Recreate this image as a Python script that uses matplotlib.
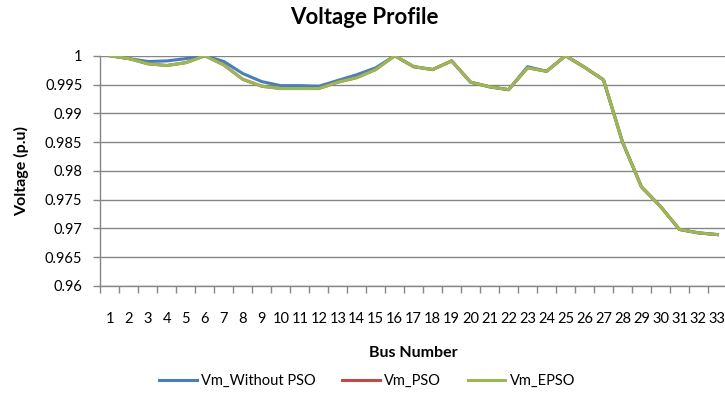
import matplotlib.pyplot as plt
from matplotlib.ticker import FixedLocator

plt.rcParams['font.family'] = ['Lato', 'DejaVu Sans']

# bus numbers
bus = list(range(1, 34))

# voltage magnitudes (p.u)
vm_without = [1.0, 0.9995, 0.9990, 0.9991, 0.9995, 1.0, 0.9990, 0.9969, 0.9955, 0.9948,
              0.9948, 0.9947, 0.9957, 0.9967, 0.9979, 1.0, 0.9981, 0.9976, 0.9991, 0.9954,
              0.9946, 0.9941, 0.9981, 0.9973, 1.0, 0.9980, 0.9958, 0.9850, 0.9772, 0.9738,
              0.9698, 0.9692, 0.9689]
vm_pso = [1.0, 0.9995, 0.9986, 0.9983, 0.9988, 1.0, 0.9984, 0.9959, 0.9947, 0.9943,
          0.9943, 0.9943, 0.9954, 0.9962, 0.9976, 1.0, 0.9981, 0.9976, 0.9991, 0.9954,
          0.9946, 0.9941, 0.9979, 0.9973, 1.0, 0.9980, 0.9958, 0.9850, 0.9772, 0.9738,
          0.9698, 0.9692, 0.9689]
vm_epso = [1.0, 0.9995, 0.9986, 0.9983, 0.9988, 1.0, 0.9984, 0.9959, 0.9947, 0.9943,
           0.9943, 0.9943, 0.9954, 0.9962, 0.9976, 1.0, 0.9981, 0.9976, 0.9991, 0.9954,
           0.9946, 0.9941, 0.9979, 0.9973, 1.0, 0.9980, 0.9958, 0.9850, 0.9772, 0.9738,
           0.9698, 0.9692, 0.9689]

y_ticks = [0.96, 0.965, 0.97, 0.975, 0.98, 0.985, 0.99, 0.995, 1.0]
y_labels = ['0.96', '0.965', '0.97', '0.975', '0.98', '0.985', '0.99', '0.995', '1']

fig = plt.figure(figsize=(7.25, 4.16), dpi=100)
ax = fig.add_axes([0.1386, 0.313, 0.864, 0.553])

ax.plot(bus, vm_without, color='#4A7EBB', lw=2.2, label='Vm_Without PSO', solid_joinstyle='round')
ax.plot(bus, vm_pso, color='#BE4B48', lw=2.2, label='Vm_PSO', solid_joinstyle='round')
ax.plot(bus, vm_epso, color='#98B954', lw=2.2, label='Vm_EPSO', solid_joinstyle='round')

ax.set_xlim(0.5, 33.5)
ax.set_ylim(0.96, 1.0)
ax.set_yticks(y_ticks)
ax.set_yticklabels(y_labels)
ax.set_xticks(bus)
ax.set_xticklabels([str(b) for b in bus], fontsize=10.5)
ax.xaxis.set_minor_locator(FixedLocator([b + 0.5 for b in range(0, 34)]))
ax.tick_params(axis='x', which='major', length=0, pad=19)
ax.tick_params(axis='x', which='minor', length=5, color='#868686', width=1)
ax.tick_params(axis='y', length=5, color='#868686', width=1, labelsize=10.5, pad=8)

ax.grid(axis='y', color='#868686', lw=1)
ax.set_axisbelow(True)
for s in ['top', 'right']:
    ax.spines[s].set_visible(False)
for s in ['left', 'bottom']:
    ax.spines[s].set_color('#868686')
    ax.spines[s].set_linewidth(1)

fig.text(364 / 725, 1 - 18 / 416, 'Voltage Profile', ha='center', va='center',
         fontsize=16, fontweight='bold')
fig.text(22 / 725, 1 - 171 / 416, 'Voltage (p.u)', ha='center', va='center',
         rotation=90, fontsize=11.5, fontweight='bold')
fig.text(413 / 725, 1 - 353 / 416, 'Bus Number', ha='center', va='center',
         fontsize=11.5, fontweight='bold')

fig.legend(loc='center', bbox_to_anchor=(367 / 725, 1 - 381 / 416), ncol=3, frameon=False,
           fontsize=10.5, handlelength=2.6, handletextpad=0.3, columnspacing=1.8)

fig.savefig('out.png', dpi=100)
